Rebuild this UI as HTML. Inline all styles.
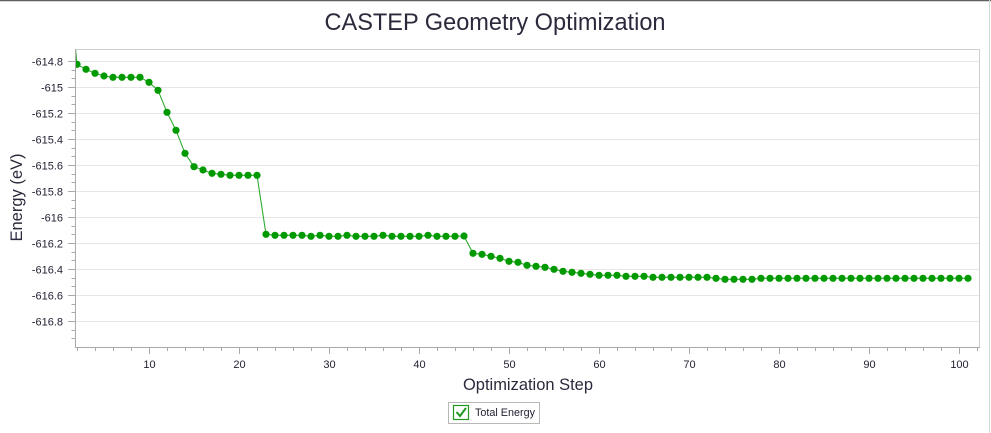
<!DOCTYPE html>
<html>
<head>
<meta charset="utf-8">
<style>
html,body{margin:0;padding:0;background:#fff;}
body{width:991px;height:433px;overflow:hidden;}
svg{display:block;font-family:"Liberation Sans",sans-serif;}
</style>
</head>
<body>
<svg width="991" height="433" viewBox="0 0 991 433" xmlns="http://www.w3.org/2000/svg">
<rect x="0" y="0" width="991" height="433" fill="#fff"/>
<line x1="0" y1="0.5" x2="991" y2="0.5" stroke="#5f5f5f" stroke-width="1.5"/>
<line x1="989.5" y1="0" x2="989.5" y2="433" stroke="#d8d8d8" stroke-width="1"/>

<text x="495" y="30" text-anchor="middle" font-size="24" fill="#2a2a3c" textLength="341" lengthAdjust="spacingAndGlyphs">CASTEP Geometry Optimization</text>

<g stroke="#e6e6e6" stroke-width="1" id="grid"></g>

<line x1="75.5" y1="49.5" x2="979.5" y2="49.5" stroke="#cfcfcf"/>
<line x1="979.5" y1="49.5" x2="979.5" y2="347" stroke="#cfcfcf"/>
<line x1="75.5" y1="49" x2="75.5" y2="347.5" stroke="#aaaaaa"/>
<line x1="75" y1="347.5" x2="980" y2="347.5" stroke="#aaaaaa"/>
<g id="ticks" stroke="#aaaaaa" stroke-width="1"></g>
<g id="labels" font-size="11" fill="#1e1e30"></g>

<defs><clipPath id="cp"><rect x="76" y="50" width="903" height="297"/></clipPath></defs>
<g clip-path="url(#cp)">
<polyline id="ln" fill="none" stroke="#2faa2f" stroke-width="1.1" points=""/>
<g id="dots" fill="#009a00"></g>
</g>

<text transform="translate(22,197.5) rotate(-90)" text-anchor="middle" font-size="16.5" fill="#2a2a3c" textLength="88" lengthAdjust="spacingAndGlyphs">Energy (eV)</text>
<text x="528" y="390" text-anchor="middle" font-size="16.5" fill="#2a2a3c" textLength="130" lengthAdjust="spacingAndGlyphs">Optimization Step</text>

<rect x="448.5" y="402.5" width="91" height="21" fill="#fff" stroke="#b8b8b8"/>
<rect x="453.5" y="405.5" width="15" height="14" fill="#fff" stroke="#1f9a1f" stroke-width="1.2"/>
<polyline points="456.5,412 460,416 466,408" fill="none" stroke="#1f9a1f" stroke-width="2"/>
<text x="475" y="416" font-size="11" fill="#1e1e30" textLength="60" lengthAdjust="spacingAndGlyphs">Total Energy</text>
</svg>
<script>
(function(){
var NS="http://www.w3.org/2000/svg";
function el(t,a,p){var e=document.createElementNS(NS,t);for(var k in a)e.setAttribute(k,a[k]);p.appendChild(e);return e;}
var grid=document.getElementById('grid'),ticks=document.getElementById('ticks'),labels=document.getElementById('labels');
function yv(E){return 61+(-614.8-E)*130;}
function xs(s){return 59+9*s;}
for(var i=0;i<=10;i++){
  var E=-614.8-0.2*i; var y=Math.round(yv(E))+0.5;
  el('line',{x1:76,y1:y,x2:979,y2:y},grid);
  el('line',{x1:68,y1:y,x2:75,y2:y},ticks);
  var t=el('text',{x:63,y:y+4,'text-anchor':'end'},labels);t.textContent=(Math.round(E*10)/10).toString();
  for(var m=1;m<=2;m++){var ym=Math.round(yv(E)+m*8.667)+0.5; if(ym<347&&ym>49) el('line',{x1:71.5,y1:ym,x2:75,y2:ym},ticks);}
}
for(var s=2;s<=102;s+=2){
  var x=xs(s)+0.5;
  if(s%10==0){el('line',{x1:x,y1:348,x2:x,y2:354},ticks);var t=el('text',{x:x,y:368,'text-anchor':'middle'},labels);t.textContent=s;}
  else el('line',{x1:x,y1:348,x2:x,y2:351},ticks);
}
var Y={1:-30,2:64.3,3:69.3,4:73.3,5:76,6:77.3,7:77.3,8:77.3,9:77.3,10:82.3,11:90.3,12:112.3,13:130.3,14:153.3,15:166.7,16:170,17:173.3,18:174.3,19:175.3,20:175.3,21:175.3,22:175.3,
23:234.3,24:235.3,25:235.3,26:235.3,27:235.3,28:236.3,29:235.3,30:236.3,31:236.3,32:235.3,33:236.3,34:236.3,35:236.3,36:235.3,37:236.3,38:236.3,39:236.3,40:236.3,41:235.3,42:236.3,43:236.3,44:236.3,45:236,
46:253.3,47:254.3,48:256.3,49:258.3,50:261.3,51:262.3,52:265.3,53:266.3,54:267.3,55:269.3,56:271.3,57:272.3,58:273.3,59:274.3,60:275.3,61:275.3,62:275.3,63:276.3,64:276.3,65:276.3,
66:277.3,67:277.3,68:277.3,69:277.3,70:277.3,71:277.3,72:277.3,73:278.3,74:279.3,75:279.3,76:279.3,77:279.3};
for(var s=78;s<=101;s++)Y[s]=278.3;
var pts=[],dots=document.getElementById('dots');
for(var s=1;s<=101;s++){pts.push(xs(s)+','+Y[s]);el('circle',{cx:xs(s),cy:Y[s],r:3.6},dots);}
document.getElementById('ln').setAttribute('points',pts.join(' '));
})();
</script>
</body>
</html>
